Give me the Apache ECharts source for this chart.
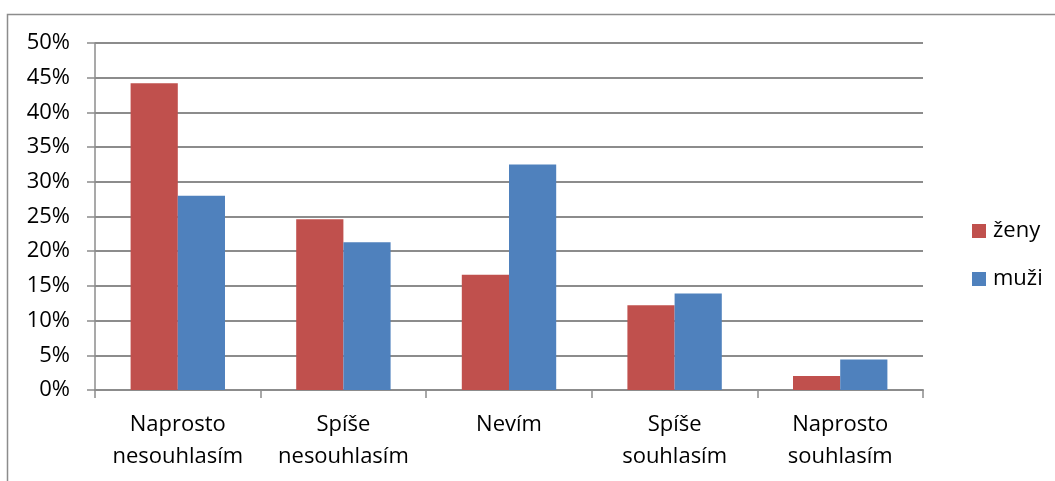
<!DOCTYPE html>
<html>
<head>
<meta charset="utf-8">
<style>
  html, body { margin: 0; padding: 0; background: #fff; }
  #chart { width: 1055px; height: 481px; }
</style>
<script src="https://cdn.jsdelivr.net/npm/echarts@6/dist/echarts.min.js"></script>
</head>
<body>
<div id="chart"></div>
<script>
// Odpovědi podle pohlaví (podíl respondentů v %)
const categories = ['Naprosto\nnesouhlasím', 'Spíše\nnesouhlasím', 'Nevím', 'Spíše\nsouhlasím', 'Naprosto\nsouhlasím'];
const zeny = [44.2, 24.6, 16.6, 12.2, 2.0];
const muzi = [28.0, 21.3, 32.5, 13.9, 4.4];
const yTicks = [0, 5, 10, 15, 20, 25, 30, 35, 40, 45, 50];

const FONT = "'Open Sans', 'Noto Sans', sans-serif";
const GRID_COLOR = '#8c8c8c';

const chart = echarts.init(document.getElementById('chart'));
chart.setOption({
  animation: false,
  backgroundColor: '#ffffff',
  textStyle: { fontFamily: FONT },
  graphic: [{
    type: 'rect',
    shape: { x: 7.5, y: 14.5, width: 1100, height: 500 },
    style: { fill: 'none', stroke: '#8c8c8c', lineWidth: 1.5 },
    silent: true,
    z: -1
  }],
  grid: { left: 95, right: 132, top: 43, bottom: 91, containLabel: false },
  legend: {
    orient: 'vertical',
    left: 967,
    top: 215,
    itemWidth: 14,
    itemHeight: 14,
    itemGap: 26,
    icon: 'rect',
    textStyle: { fontFamily: FONT, fontSize: 22, color: '#000', lineHeight: 22, padding: [0, 0, 0, 2] },
    data: ['ženy', 'muži']
  },
  xAxis: {
    type: 'category',
    data: categories,
    axisLine: { lineStyle: { color: GRID_COLOR, width: 2 } },
    axisTick: { show: true, length: 8, lineStyle: { color: GRID_COLOR, width: 1.5 } },
    axisLabel: {
      color: '#000', fontFamily: FONT, fontSize: 22, lineHeight: 32,
      margin: 19, interval: 0
    }
  },
  yAxis: {
    type: 'value',
    min: yTicks[0],
    max: yTicks[yTicks.length - 1],
    interval: 5,
    axisLine: { show: true, lineStyle: { color: GRID_COLOR, width: 1.5 } },
    axisTick: { show: true, length: 8, lineStyle: { color: GRID_COLOR, width: 1.5 } },
    splitLine: { show: true, lineStyle: { color: GRID_COLOR, width: 2 } },
    axisLabel: {
      color: '#000', fontFamily: FONT, fontSize: 22, margin: 25,
      formatter: v => v + '%'
    }
  },
  series: [
    {
      name: 'ženy', type: 'bar', data: zeny,
      barGap: '0%', barCategoryGap: '43%',
      itemStyle: { color: '#C0504D' }
    },
    {
      name: 'muži', type: 'bar', data: muzi,
      itemStyle: { color: '#4F81BD' }
    }
  ]
});
</script>
</body>
</html>
